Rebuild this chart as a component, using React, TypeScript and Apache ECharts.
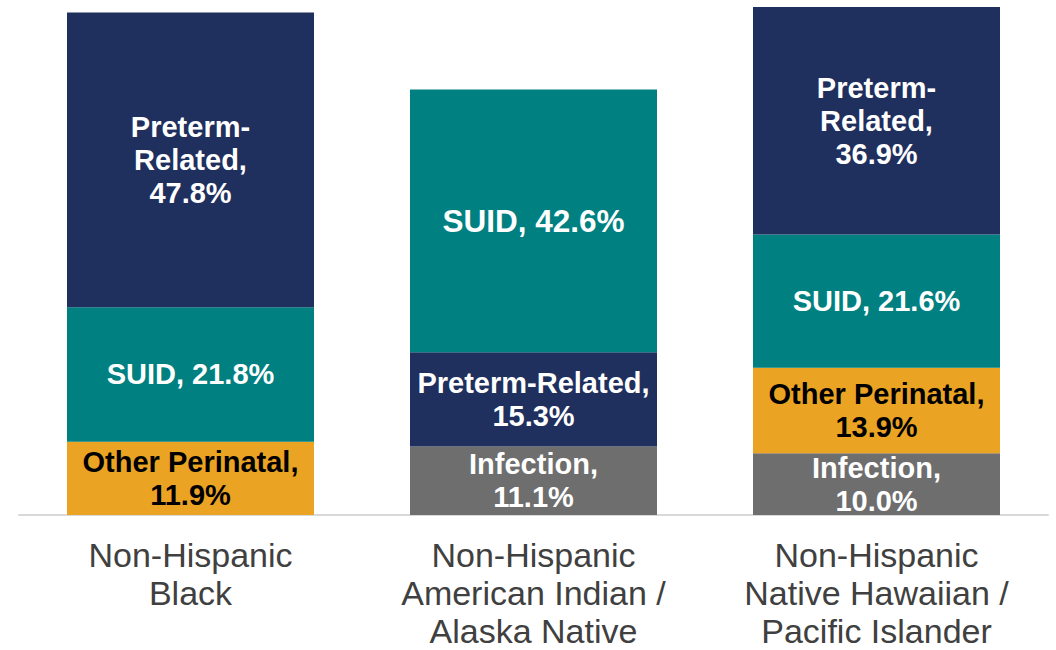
import React, { useEffect, useRef } from "react";
import * as echarts from "echarts";

const categories = [
  "Non-Hispanic\nBlack",
  "Non-Hispanic\nAmerican Indian /\nAlaska Native",
  "Non-Hispanic\nNative Hawaiian /\nPacific Islander",
];
const causes = ["Preterm-Related", "SUID", "Other Perinatal", "Infection"];
const pretermRelated = [47.8, 15.3, 36.9];
const suid = [21.8, 42.6, 21.6];
const otherPerinatal = [11.9, null, 13.9];
const infection = [null, 11.1, 10.0];

const causeValues: (number | null)[][] = [pretermRelated, suid, otherPerinatal, infection];
const causeColors = ["#1F2F5E", "#008080", "#EBA323", "#6E6E6E"];
const causeLabelColors = ["#FFFFFF", "#FFFFFF", "#000000", "#FFFFFF"];

const FONT = "'Liberation Sans', Arial, Helvetica, sans-serif";

function labelText(cause: string, value: number): string {
  const v = value.toFixed(1) + "%";
  if (cause === "SUID") return `${cause}, ${v}`;
  if (cause === "Preterm-Related" && value > 30) return `Preterm-\nRelated,\n${v}`;
  return `${cause},\n${v}`;
}

export default function App() {
  const ref = useRef<HTMLDivElement>(null);
  useEffect(() => {
    if (!ref.current) return;
    const chart = echarts.init(ref.current, undefined, { renderer: "svg" });

    // Stack each bar's segments from smallest (bottom) to largest (top)
    const perCat = categories.map((_, i) =>
      causes
        .map((c, k) => ({ k, cause: c, value: causeValues[k][i] }))
        .filter((d) => d.value != null)
        .sort((a, b) => (a.value as number) - (b.value as number))
    );
    const levels = Math.max(...perCat.map((p) => p.length));
    const series: any[] = [];
    for (let j = 0; j < levels; j++) {
      series.push({
        type: "bar",
        stack: "total",
        barWidth: 247,
        data: perCat.map((p) => {
          const d = p[j];
          if (!d) return "-";
          const big = (d.value as number) > 40 && d.cause === "SUID";
          return {
            value: d.value,
            name: d.cause,
            itemStyle: { color: causeColors[d.k] },
            label: {
              show: true,
              position: "inside",
              formatter: labelText(d.cause, d.value as number),
              color: causeLabelColors[d.k],
              fontFamily: FONT,
              fontWeight: "bold",
              fontSize: big ? 31.5 : 29,
              lineHeight: 33,
            },
          };
        }),
      });
    }

    chart.setOption({
      animation: false,
      grid: {
        left: 19,
        right: 8,
        top: 7,
        bottom: 135,
        containLabel: false,
        outerBoundsMode: "none",
      },
      xAxis: {
        type: "category",
        data: categories,
        axisLine: { show: true, lineStyle: { color: "#D9D9D9", width: 2 } },
        axisTick: { show: false },
        axisLabel: {
          color: "#404040",
          fontFamily: FONT,
          fontSize: 34,
          lineHeight: 38,
          margin: 21,
          interval: 0,
        },
      },
      yAxis: {
        type: "value",
        min: 0,
        max: 82.4,
        show: false,
        splitLine: { show: false },
      },
      series,
    });
    return () => chart.dispose();
  }, []);
  return (
    <div
      ref={ref}
      style={{ position: "fixed", left: 0, top: 0, width: 1056, height: 650, background: "#fff" }}
    />
  );
}
